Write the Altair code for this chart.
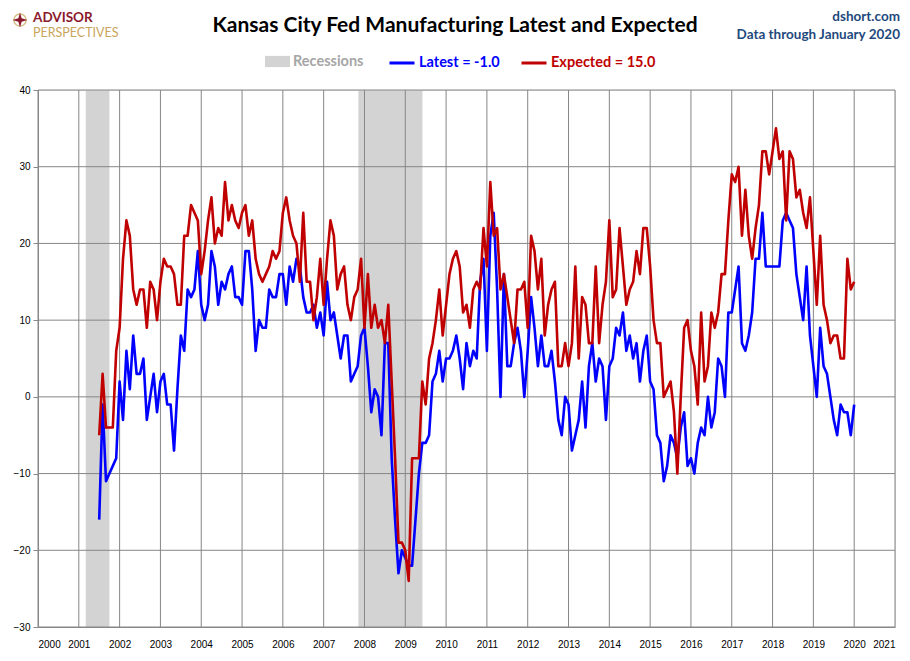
import altair as alt
import pandas as pd

# monthly readings, July 2001 .. January 2020 (one row per year)
latest = [
    -16, -1, -11, -10, -9, -8,
    2, -3, 6, 1, 8, 3, 3, 5, -3, 0, 3, -2,
    2, 3, -1, -1, -7, 1, 8, 6, 14, 13, 14, 19,
    12, 10, 12, 19, 17, 12, 15, 14, 16, 17, 13, 13,
    12, 19, 19, 14, 6, 10, 9, 9, 14, 13, 13, 16,
    16, 12, 17, 15, 18, 17, 13, 11, 11, 12, 9, 11,
    8, 15, 10, 11, 8, 5, 8, 8, 2, 3, 4, 8,
    9, 4, -2, 1, 0, -5, 7, 7, -8, -16, -23, -20,
    -21, -22, -22, -16, -10, -6, -6, -5, 2, 3, 6, 2,
    5, 5, 6, 8, 5, 1, 7, 4, 6, 5, 15, 18,
    6, 21, 24, 14, 0, 16, 4, 4, 7, 9, 6, 0,
    6, 13, 9, 4, 8, 4, 4, 6, 2, -3, -5, 0,
    -1, -7, -5, -3, 2, -4, 4, 7, 2, 5, 4, -3,
    4, 5, 9, 8, 11, 6, 8, 5, 7, 2, 6, 8,
    2, 1, -5, -6, -11, -9, -5, -6, -8, -4, -2, -9,
    -8, -10, -6, -4, -5, 0, -4, -2, 5, 4, 0, 11,
    11, 14, 17, 7, 6, 8, 11, 18, 18, 24, 17, 17,
    17, 17, 17, 23, 24, 23, 22, 16, 13, 10, 17, 8,
    4, 0, 9, 4, 3, 0, -3, -5, -1, -2, -2, -5,
    -1,
]
expected = [
    -5, 3, -4, -4, -4, 6,
    9, 18, 23, 21, 14, 12, 14, 14, 9, 15, 14, 10,
    15, 18, 17, 17, 16, 12, 12, 21, 21, 25, 24, 23,
    16, 19, 23, 26, 20, 22, 21, 28, 23, 25, 23, 22,
    24, 25, 21, 23, 18, 16, 15, 16, 17, 19, 18, 19,
    24, 26, 23, 21, 20, 15, 24, 15, 15, 10, 13, 18,
    12, 18, 23, 21, 14, 16, 17, 12, 10, 13, 14, 18,
    9, 16, 9, 12, 9, 10, 7, 12, 2, -8, -19, -19,
    -20, -24, -8, -8, -8, 2, -1, 5, 7, 10, 14, 8,
    12, 16, 18, 19, 17, 11, 12, 9, 14, 15, 14, 22,
    17, 28, 21, 22, 14, 16, 13, 10, 7, 14, 14, 15,
    9, 21, 19, 14, 18, 8, 12, 14, 15, 4, 4, 7,
    4, 7, 17, 5, 13, 12, 7, 7, 17, 7, 12, 15,
    23, 13, 14, 22, 17, 12, 14, 15, 19, 16, 22, 22,
    17, 10, 7, 7, 0, 1, 2, -2, -10, 0, 9, 10,
    6, 4, -1, 11, 2, 4, 11, 9, 11, 16, 16, 23,
    29, 28, 30, 21, 27, 21, 18, 22, 25, 32, 32, 29,
    32, 35, 31, 32, 23, 32, 31, 26, 27, 24, 22, 26,
    19, 12, 21, 12, 10, 7, 8, 8, 5, 5, 18, 14,
    15,
]
first_month = 2001.5  # July 2001 as a decimal year

rec_start = [2001.17, 2007.85]
rec_end = [2001.75, 2009.42]

year_ticks = list(range(2000, 2022))
value_ticks = list(range(-30, 41, 10))

LATEST = f"Latest = {latest[-1]:.1f}"
EXPECTED = f"Expected = {expected[-1]:.1f}"
BLUE, RED, GREY = "#0000FF", "#C00000", "#868686"
FONT = "Lato"

n = len(latest)
t = [first_month + i / 12 for i in range(n)]
blue_df = pd.DataFrame({"t": t, "value": latest, "series": LATEST})
red_df = pd.DataFrame({"t": t, "value": expected, "series": EXPECTED})
rec_df = pd.DataFrame({"start": rec_start, "end": rec_end, "label": "Recessions"})

x_scale = alt.Scale(domain=[2000, 2021], nice=False, zero=False)
y_scale = alt.Scale(domain=[-30, 40], nice=False)

x_axis = alt.Axis(values=year_ticks, format="d", title=None, ticks=False,
                  labelPadding=12, grid=False)
y_axis = alt.Axis(values=value_ticks, title=None, tickSize=5, labelPadding=3,
                  grid=False)


def legend(x, col, **kw):
    return alt.Legend(
        title=None, orient="none", legendX=x, legendY=-41,
        symbolSize=625, labelColor=col, labelFont=FONT, labelFontSize=14.5,
        labelFontWeight="bold", labelOffset=3, **kw,
    )


rec = alt.Chart(rec_df).mark_rect().encode(
    x=alt.X("start:Q", scale=x_scale, axis=x_axis),
    x2="end:Q",
    fill=alt.Fill(
        "label:N",
        scale=alt.Scale(domain=["Recessions"], range=["#D3D3D3"]),
        legend=legend(227, "#A6A6A6", symbolType="M-1,-0.45H1V0.45H-1Z",
                      symbolStrokeWidth=0),
    ),
)

# gridlines drawn over the recession bands, under the series
vgrid = alt.Chart(pd.DataFrame({"year": year_ticks})).mark_rule(
    color=GREY, strokeWidth=1
).encode(x=alt.X("year:Q", scale=x_scale, axis=x_axis))
hgrid = alt.Chart(pd.DataFrame({"v": value_ticks})).mark_rule(
    color=GREY, strokeWidth=1
).encode(y=alt.Y("v:Q", scale=y_scale, axis=y_axis))

blue_line = alt.Chart(blue_df).mark_line(strokeWidth=2.6, strokeJoin="round").encode(
    x=alt.X("t:Q", scale=x_scale, axis=x_axis),
    y=alt.Y("value:Q", scale=y_scale, axis=y_axis),
    color=alt.Color("series:N", scale=alt.Scale(domain=[LATEST], range=[BLUE]),
                    legend=legend(350, BLUE, symbolType="stroke",
                                  symbolStrokeWidth=3)),
)
red_line = alt.Chart(red_df).mark_line(strokeWidth=2.6, strokeJoin="round").encode(
    x=alt.X("t:Q", scale=x_scale, axis=x_axis),
    y=alt.Y("value:Q", scale=y_scale, axis=y_axis),
    stroke=alt.Stroke("series:N", scale=alt.Scale(domain=[EXPECTED], range=[RED]),
                      legend=legend(482, RED, symbolType="stroke",
                                    symbolStrokeWidth=3)),
)


def note(text, x, y, **style):
    return alt.Chart(pd.DataFrame({"txt": [text]})).mark_text(
        font=FONT, baseline="alphabetic", **style
    ).encode(text="txt:N", x=alt.value(x), y=alt.value(y))


notes = [
    note("Kansas City Fed Manufacturing Latest and Expected", 417, -58,
         align="center", fontSize=21, fontWeight="bold", color="black"),
    note("dshort.com", 862, -69, align="right", fontSize=13.5, fontWeight="bold",
         color="#1F497D"),
    note("Data through January 2020", 862, -51, align="right", fontSize=13.5,
         fontWeight="bold", color="#1F497D"),
    note("ADVISOR", -5, -68, align="left", fontSize=13.5, fontWeight="bold",
         color="#8B1A2B"),
    note("PERSPECTIVES", -5, -53, align="left", fontSize=12.5,
         fontWeight="normal", color="#C9A45C"),
]
logo_ring = alt.Chart(pd.DataFrame({"k": [0]})).mark_point(
    shape="circle", size=150, filled=False, color="#C9A45C", strokeWidth=1.5
).encode(x=alt.value(-18), y=alt.value(-70))
logo_star = alt.Chart(pd.DataFrame({"k": [0]})).mark_point(
    shape="M0,-1L0.22,-0.22L1,0L0.22,0.22L0,1L-0.22,0.22L-1,0L-0.22,-0.22Z",
    size=220, filled=True, color="#8B1A2B", opacity=1,
).encode(x=alt.value(-18), y=alt.value(-70))

chart = alt.layer(
    rec, vgrid, hgrid, blue_line, red_line,
    logo_ring, logo_star, *notes,
).properties(
    width=857,
    height=537,
    autosize=alt.AutoSizeParams(type="none"),
    padding={"left": 30, "top": 82, "right": 7, "bottom": 26},
).configure_view(
    stroke=GREY, strokeWidth=1
).configure_axis(
    domainColor=GREY, tickColor=GREY, labelFont=FONT, labelFontSize=12,
    labelColor="black",
).configure(background="white")

chart.save("out.html", embed_options={"renderer": "svg", "actions": False})
